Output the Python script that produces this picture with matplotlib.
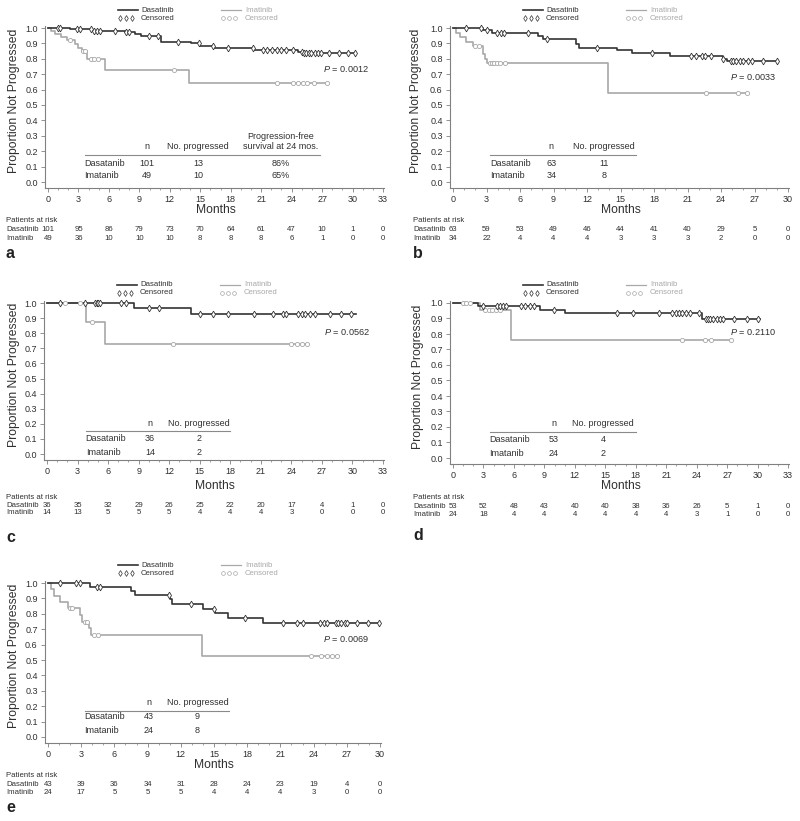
import numpy as np
import matplotlib
matplotlib.use('Agg')
import matplotlib.pyplot as plt
from matplotlib.transforms import blended_transform_factory

plt.rcParams['font.family'] = ['Liberation Sans', 'DejaVu Sans']
plt.rcParams['mathtext.fontset'] = 'custom'
plt.rcParams['mathtext.it'] = 'Liberation Sans:italic'
plt.rcParams['mathtext.rm'] = 'Liberation Sans'

# ---------------- data ----------------
# panel a
a_das_times = [2.2, 4.3, 7.6, 8.6, 9.2, 11.1, 14.1, 15.0, 16.4, 20.3, 24.6, 25.1]
a_das_surv = [0.992, 0.982, 0.972, 0.962, 0.950, 0.911, 0.900, 0.886, 0.869, 0.857, 0.846, 0.838]
a_das_cens = [1.0, 1.2, 2.9, 3.2, 4.2, 4.5, 4.8, 5.1, 6.6, 7.7, 8.0, 9.9, 10.8, 12.8, 14.9,
              16.3, 17.7, 20.2, 21.2, 21.6, 22.1, 22.6, 23.0, 23.4, 24.1, 25.0, 25.2, 25.4,
              25.7, 25.9, 26.3, 26.6, 26.9, 27.7, 28.7, 29.6, 30.2]
a_das_end = 30.2
a_ima_times = [0.3, 0.7, 1.3, 1.9, 2.7, 3.0, 3.3, 3.8, 5.6, 13.9]
a_ima_surv = [0.98, 0.96, 0.94, 0.92, 0.895, 0.87, 0.848, 0.80, 0.725, 0.645]
a_ima_cens = [2.2, 3.4, 3.6, 4.2, 4.5, 4.9, 12.4, 22.6, 24.1, 24.6, 25.1, 25.5, 26.2, 27.5]
a_ima_end = 27.6
a_risk_das = [101, 95, 86, 79, 73, 70, 64, 61, 47, 10, 1, 0]
a_risk_ima = [49, 36, 10, 10, 10, 8, 8, 8, 6, 1, 0, 0]
a_table = [['Dasatanib', '101', '13', '86%'], ['Imatanib', '49', '10', '65%']]
a_pval = '0.0012'

# panel b
b_das_times = [2.7, 3.5, 7.6, 8.1, 11.0, 11.3, 14.7, 16.0, 19.4, 24.2, 24.5]
b_das_surv = [0.985, 0.97, 0.95, 0.93, 0.895, 0.873, 0.855, 0.835, 0.815, 0.80, 0.785]
b_das_cens = [1.2, 2.5, 3.0, 3.9, 4.3, 4.6, 6.7, 8.4, 12.9, 17.8, 21.3, 21.8, 22.3, 22.6,
              23.1, 24.2, 24.9, 25.1, 25.3, 25.7, 26.0, 26.4, 26.8, 27.8, 29.0]
b_das_end = 29.0
b_ima_times = [0.3, 0.6, 1.2, 1.8, 2.7, 2.9, 3.0, 13.9]
b_ima_surv = [0.97, 0.94, 0.91, 0.88, 0.83, 0.80, 0.772, 0.58]
b_ima_cens = [2.0, 2.3, 3.3, 3.5, 3.7, 3.9, 4.2, 4.7, 22.7, 25.5, 26.3]
b_ima_end = 26.4
b_risk_das = [63, 59, 53, 49, 46, 44, 41, 40, 29, 5, 0]
b_risk_ima = [34, 22, 4, 4, 4, 3, 3, 3, 2, 0, 0]
b_table = [['Dasatanib', '63', '11'], ['Imatanib', '34', '8']]
b_pval = '0.0033'

# panel c
c_das_times = [8.5, 14.1]
c_das_surv = [0.966, 0.927]
c_das_cens = [1.3, 3.7, 4.7, 4.9, 5.0, 5.2, 7.3, 7.8, 10.0, 11.0, 15.0, 16.3, 17.8, 20.3,
              22.2, 23.2, 23.5, 24.7, 25.0, 25.3, 25.8, 26.3, 27.8, 28.9, 29.9]
c_das_end = 30.3
c_ima_times = [3.8, 5.7]
c_ima_surv = [0.875, 0.729]
c_ima_cens = [1.8, 3.2, 4.4, 12.4, 24.0, 24.6, 25.0, 25.5]
c_ima_end = 25.6
c_risk_das = [36, 35, 32, 29, 26, 25, 22, 20, 17, 4, 1, 0]
c_risk_ima = [14, 13, 5, 5, 5, 4, 4, 4, 3, 0, 0, 0]
c_table = [['Dasatanib', '36', '2'], ['Imatanib', '14', '2']]
c_pval = '0.0562'

# panel d
d_das_times = [2.5, 8.6, 11.0, 24.5]
d_das_surv = [0.981, 0.958, 0.934, 0.898]
d_das_cens = [3.0, 4.3, 4.6, 4.9, 5.2, 6.7, 7.1, 7.6, 8.0, 9.9, 16.2, 17.7, 20.3, 21.6, 22.0,
              22.3, 22.6, 23.0, 23.3, 24.2, 24.9, 25.1, 25.3, 25.6, 26.0, 26.3, 26.6, 27.7,
              29.0, 30.0]
d_das_end = 30.2
d_ima_times = [2.7, 5.7]
d_ima_surv = [0.952, 0.762]
d_ima_cens = [1.0, 1.3, 1.7, 3.2, 3.5, 3.8, 4.2, 4.6, 22.6, 24.8, 25.4, 27.4]
d_ima_end = 27.5
d_risk_das = [53, 52, 48, 43, 40, 40, 38, 36, 26, 5, 1, 0]
d_risk_ima = [24, 18, 4, 4, 4, 4, 4, 4, 3, 1, 0, 0]
d_table = [['Dasatanib', '53', '4'], ['Imatanib', '24', '2']]
d_pval = '0.2110'

# panel e
e_das_times = [3.8, 7.5, 7.9, 11.0, 11.2, 14.0, 15.1, 16.3, 19.4]
e_das_surv = [0.974, 0.947, 0.92, 0.893, 0.864, 0.834, 0.803, 0.771, 0.738]
e_das_cens = [1.1, 2.5, 2.9, 4.4, 4.7, 10.9, 12.9, 15.0, 17.8, 21.2, 22.5, 23.0, 24.6, 24.9,
              25.2, 26.0, 26.2, 26.5, 26.8, 27.0, 27.9, 28.9, 29.9]
e_das_end = 30.0
e_ima_times = [0.3, 0.5, 1.1, 1.8, 2.9, 3.1, 3.7, 3.9, 13.9]
e_ima_surv = [0.958, 0.917, 0.875, 0.835, 0.79, 0.745, 0.705, 0.66, 0.525]
e_ima_cens = [1.95, 2.2, 3.3, 3.5, 4.2, 4.5, 23.8, 24.7, 25.2, 25.7, 26.1]
e_ima_end = 26.3
e_risk_das = [43, 39, 36, 34, 31, 28, 24, 23, 19, 4, 0]
e_risk_ima = [24, 17, 5, 5, 5, 4, 4, 4, 3, 0, 0]
e_table = [['Dasatanib', '43', '9'], ['Imatanib', '24', '8']]
e_pval = '0.0069'

# ---------------- style / layout ----------------
W, H = 800, 821
DAS_COLOR = '#333333'
IMA_COLOR = '#a8a8a8'
TXT = '#303030'
SPINE = '#808080'
XPAD_L, XPAD_R, YPAD_B, YPAD_T = 0.3, 0.1, 0.04, 0.015


def fx(px):
    return px / W


def fy(py):
    return 1 - py / H


def km_curve(ax, times, surv, end, cens, color, marker, ms):
    t = np.r_[0.0, times, end]
    s = np.r_[1.0, surv, surv[-1]]
    ax.step(t, s, where='post', color=color, lw=1.2, clip_on=False, zorder=3)
    cy = s[np.searchsorted(t, cens, side='right') - 1]
    ax.plot(cens, cy, ls='none', marker=marker, ms=ms, mfc='white', mec=color,
            mew=0.6, clip_on=False, zorder=4)


def draw_panel(fig, g, das, ima, risk_das, risk_ima, table, pval):
    q0, qmax, xmax, p1, p0 = g['q0'], g['qmax'], g['xmax'], g['p1'], g['p0']
    ux = (qmax - q0) / xmax
    uy = p0 - p1
    left = q0 - XPAD_L * ux
    right = qmax + XPAD_R * ux
    bottom = p0 + YPAD_B * uy
    top = p1 - YPAD_T * uy
    ax = fig.add_axes([fx(left), fy(bottom), (right - left) / W, (bottom - top) / H])
    ax.set_xlim(-XPAD_L, xmax + XPAD_R)
    ax.set_ylim(-YPAD_B, 1 + YPAD_T)
    for side in ('top', 'right'):
        ax.spines[side].set_visible(False)
    for side in ('left', 'bottom'):
        ax.spines[side].set_color(SPINE)
        ax.spines[side].set_linewidth(0.8)
    ax.set_xticks(np.arange(0, xmax + 1, 3))
    ax.set_xticks(np.arange(0, xmax + 1, 1), minor=True)
    ax.set_yticks(np.round(np.arange(0, 1.01, 0.1), 1))
    ax.set_yticklabels([f'{v:.1f}' for v in np.arange(0, 1.01, 0.1)])
    ax.tick_params(which='major', length=3, width=0.6, color=SPINE, labelsize=6.5,
                   labelcolor=TXT, pad=2)
    ax.tick_params(which='minor', length=1.5, width=0.5, color=SPINE)
    ax.patch.set_alpha(0)

    km_curve(ax, *ima, IMA_COLOR, 'o', 3.0)
    km_curve(ax, *das, DAS_COLOR, 'd', 3.4)

    # p-value
    ax.text(g['px'], g['py'], r'$P$ = ' + pval, fontsize=6.6, color=TXT,
            ha='center', va='center')

    # inner table
    tx0, tx1, ty = g['tab_x0'], g['tab_x1'], g['tab_y']
    ax.plot([tx0, tx1], [ty, ty], color='#8a8a8a', lw=0.8)
    cols = g['tab_cols']
    headers = ['n', 'No. progressed', 'Progression-free\nsurvival at 24 mos.']
    for x, h in zip(cols, headers):
        ax.text(x, ty + 0.025, h, fontsize=6.5, color=TXT, ha='center', va='bottom',
                multialignment='center', linespacing=1.1)
    for row, ry in zip(table, g['tab_rows']):
        ax.text(tx0, ry, row[0], fontsize=6.5, color=TXT, ha='left', va='center')
        for x, v in zip(cols, row[1:]):
            ax.text(x, ry, v, fontsize=6.5, color=TXT, ha='center', va='center')

    # axis labels
    fig.text(fx((q0 + qmax) / 2), fy(g['months_y']), 'Months', fontsize=8.7, color=TXT,
             ha='center', va='center')
    fig.text(fx(g['ylab_x']), fy((p0 + p1) / 2 - 4), 'Proportion Not Progressed',
             fontsize=8.7, color=TXT, ha='center', va='center', rotation=90)

    # legend above axes
    for dx0, dx1, dxt, col, name, mk in [(70, 90, 93, DAS_COLOR, 'Dasatinib', 'd'),
                                         (173, 193, 197, IMA_COLOR, 'Imatinib', 'o')]:
        ly1 = fy(p1 - 18)
        ly2 = fy(p1 - 10)
        fig.add_artist(plt.Line2D([fx(q0 + dx0), fx(q0 + dx1)], [ly1, ly1], color=col,
                                  lw=1.2 if col == DAS_COLOR else 0.9))
        fig.text(fx(q0 + dxt), ly1, name, fontsize=5.6, color=col if col == IMA_COLOR else TXT,
                 ha='left', va='center')
        mxs = [fx(q0 + dx0 + 2 + 6 * k) for k in range(3)]
        fig.add_artist(plt.Line2D(mxs, [ly2] * 3, ls='none', marker=mk,
                                  ms=3.0 if mk == 'd' else 2.7, mfc='white', mec=col, mew=0.5))
        fig.text(fx(q0 + dxt), ly2, 'Censored', fontsize=5.6,
                 color=IMA_COLOR if col == IMA_COLOR else TXT, ha='left', va='center')

    # patients at risk
    tr = blended_transform_factory(ax.transData, fig.transFigure)
    fig.text(fx(g['lab_x']), fy(g['risk_y'][0]), 'Patients at risk', fontsize=5.6,
             color=TXT, ha='left', va='center')
    for name, counts, ry in [('Dasatinib', risk_das, g['risk_y'][1]),
                             ('Imatinib', risk_ima, g['risk_y'][2])]:
        fig.text(fx(g['lab_x']), fy(ry), name, fontsize=5.6, color=TXT, ha='left', va='center')
        for k, v in enumerate(counts):
            ax.text(3 * k, fy(ry), str(v), transform=tr, fontsize=5.6, color=TXT,
                    ha='center', va='center', clip_on=False)

    # panel letter
    fig.text(fx(g['lab_x']), fy(g['letter_y']), g['letter'], fontsize=11.5, fontweight='bold',
             color='#222222', ha='left', va='center')
    return ax


geoms = {
    'a': dict(q0=48, qmax=383, xmax=33, p1=28, p0=182, months_y=210, ylab_x=14,
              lab_x=6, risk_y=(220, 229, 238), letter_y=254, letter='a',
              px=29.4, py=0.734, tab_x0=3.6, tab_x1=26.8, tab_y=0.177,
              tab_cols=[9.7, 14.8, 22.9], tab_rows=[0.123, 0.041]),
    'b': dict(q0=453, qmax=788, xmax=30, p1=28, p0=182, months_y=210, ylab_x=416,
              lab_x=413, risk_y=(220, 229, 239), letter_y=254, letter='b',
              px=26.9, py=0.685, tab_x0=3.3, tab_x1=16.4, tab_y=0.177,
              tab_cols=[8.8, 13.5], tab_rows=[0.123, 0.041]),
    'c': dict(q0=47, qmax=383, xmax=33, p1=303, p0=454, months_y=486, ylab_x=14,
              lab_x=6, risk_y=(497, 505, 513), letter_y=537, letter='c',
              px=29.5, py=0.81, tab_x0=3.8, tab_x1=18.0, tab_y=0.15,
              tab_cols=[10.1, 14.9], tab_rows=[0.10, 0.011]),
    'd': dict(q0=453, qmax=788, xmax=33, p1=303, p0=458, months_y=486, ylab_x=418,
              lab_x=413, risk_y=(497, 506, 514), letter_y=535, letter='d',
              px=29.6, py=0.81, tab_x0=3.6, tab_x1=18.0, tab_y=0.168,
              tab_cols=[9.9, 14.8], tab_rows=[0.121, 0.032]),
    'e': dict(q0=48, qmax=380, xmax=30, p1=583, p0=737, months_y=765, ylab_x=14,
              lab_x=6, risk_y=(775, 784, 792), letter_y=807, letter='e',
              px=26.9, py=0.635, tab_x0=3.3, tab_x1=16.4, tab_y=0.17,
              tab_cols=[9.1, 13.5], tab_rows=[0.13, 0.04]),
}

fig = plt.figure(figsize=(W / 100, H / 100), dpi=100)
fig.patch.set_facecolor('white')

draw_panel(fig, geoms['a'], (a_das_times, a_das_surv, a_das_end, a_das_cens),
           (a_ima_times, a_ima_surv, a_ima_end, a_ima_cens), a_risk_das, a_risk_ima,
           a_table, a_pval)
draw_panel(fig, geoms['b'], (b_das_times, b_das_surv, b_das_end, b_das_cens),
           (b_ima_times, b_ima_surv, b_ima_end, b_ima_cens), b_risk_das, b_risk_ima,
           b_table, b_pval)
draw_panel(fig, geoms['c'], (c_das_times, c_das_surv, c_das_end, c_das_cens),
           (c_ima_times, c_ima_surv, c_ima_end, c_ima_cens), c_risk_das, c_risk_ima,
           c_table, c_pval)
draw_panel(fig, geoms['d'], (d_das_times, d_das_surv, d_das_end, d_das_cens),
           (d_ima_times, d_ima_surv, d_ima_end, d_ima_cens), d_risk_das, d_risk_ima,
           d_table, d_pval)
draw_panel(fig, geoms['e'], (e_das_times, e_das_surv, e_das_end, e_das_cens),
           (e_ima_times, e_ima_surv, e_ima_end, e_ima_cens), e_risk_das, e_risk_ima,
           e_table, e_pval)

fig.savefig('out.png', dpi=100, facecolor='white')
